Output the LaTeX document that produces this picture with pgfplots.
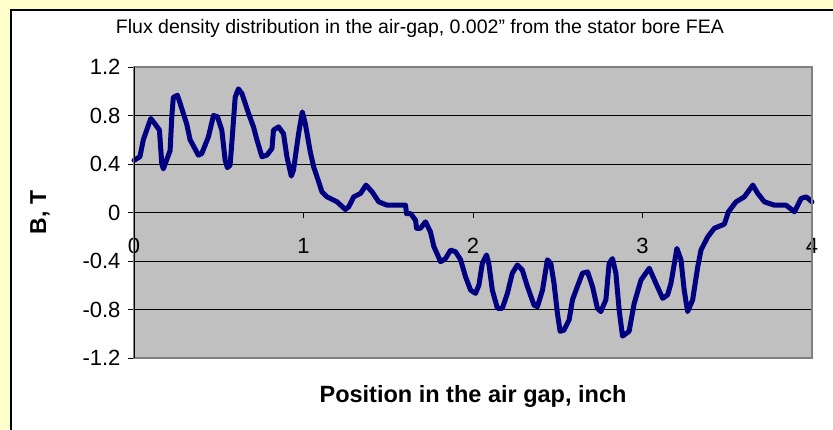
\documentclass[border=0pt]{standalone}
\usepackage{pgfplots}
\pgfplotsset{compat=1.18}
\usepackage{fontspec}
\setmainfont{Liberation Sans}
\definecolor{bgyellow}{HTML}{FFFFCC}
\definecolor{plotgray}{HTML}{C0C0C0}
\definecolor{framegray}{HTML}{808080}
\definecolor{navyline}{HTML}{000080}
\begin{document}
\begin{tikzpicture}[x=1pt,y=1pt]
\useasboundingbox (0,0) rectangle (833,430);
\fill[bgyellow] (0,0) rectangle (833,430);
\draw[black,line width=1.5pt,fill=white] (11,-10) rectangle (850,420);
\begin{axis}[
  at={(134pt,72pt)}, anchor=south west,
  scale only axis, width=678pt, height=291pt,
  xmin=0, xmax=4, ymin=-1.2, ymax=1.2,
  axis x line=middle, axis y line=left,
  hide obscured x ticks=false,
  axis line style={black,line width=0.9pt,-},
  axis background/.style={fill=plotgray},
  xtick={1,2,3,4},
  xticklabels={1,2,3,4},
  extra x ticks={0},
  extra x tick labels={0},
  ytick={-1.2,-0.8,-0.4,0,0.4,0.8,1.2},
  yticklabels={-1.2,-0.8,-0.4,0,0.4,0.8,1.2},
  tick align=outside, major tick length=6pt,
  tick style={black,line width=0.9pt},
  ymajorgrids, grid style={black,line width=0.9pt},
  extra x tick style={grid=none},
  ticklabel style={font=\fontsize{22}{26}\selectfont},
  xticklabel style={anchor=north, yshift=-16pt},
  yticklabel style={anchor=east, xshift=-4pt},
  title={Flux density distribution in the air-gap, 0.002\symbol{34} from the stator bore FEA},
  title style={at={(rel axis cs:0.4218,1.0952)}, anchor=base, font=\fontsize{19.5}{22}\selectfont},
  xlabel={Position in the air gap, inch},
  xlabel style={at={(rel axis cs:0.5,-0.1546)}, anchor=base, font=\bfseries\fontsize{23.5}{27}\selectfont},
  ylabel={B, T},
  ylabel style={at={(rel axis cs:-0.1386,0.5)}, anchor=center, font=\bfseries\fontsize{23}{27}\selectfont},
  clip=false,
]
\addplot[navyline, line width=5pt, line join=round, line cap=round] coordinates {
(0.000,0.43) (0.035,0.46) (0.055,0.60) (0.075,0.68) (0.099,0.775) (0.124,0.73) (0.150,0.68)
(0.164,0.40) (0.173,0.36) (0.213,0.51) (0.223,0.79) (0.232,0.95) (0.256,0.967) (0.272,0.90)
(0.311,0.73) (0.331,0.60) (0.380,0.473) (0.400,0.487) (0.439,0.624) (0.469,0.80) (0.492,0.79)
(0.518,0.68) (0.538,0.43) (0.551,0.37) (0.567,0.39) (0.577,0.57) (0.597,0.95) (0.616,1.02)
(0.637,0.98) (0.676,0.816) (0.705,0.706) (0.725,0.60) (0.755,0.46) (0.784,0.473) (0.814,0.528)
(0.823,0.68) (0.853,0.706) (0.882,0.65) (0.902,0.46) (0.928,0.30) (0.941,0.35) (0.971,0.65)
(0.993,0.83) (1.011,0.73) (1.040,0.50) (1.060,0.376) (1.080,0.294) (1.109,0.17) (1.139,0.129)
(1.198,0.088) (1.247,0.025) (1.267,0.047) (1.296,0.129) (1.336,0.157) (1.369,0.226) (1.405,0.17)
(1.444,0.088) (1.494,0.06) (1.553,0.06) (1.602,0.06) (1.608,-0.01) (1.631,-0.008) (1.661,-0.063)
(1.667,-0.13) (1.690,-0.13) (1.720,-0.077) (1.749,-0.16) (1.769,-0.28) (1.809,-0.406) (1.838,-0.38)
(1.868,-0.31) (1.897,-0.324) (1.927,-0.39) (1.956,-0.53) (1.986,-0.64) (2.015,-0.667) (2.035,-0.598)
(2.055,-0.42) (2.080,-0.35) (2.093,-0.42) (2.114,-0.64) (2.144,-0.79) (2.173,-0.79) (2.203,-0.667)
(2.232,-0.50) (2.262,-0.433) (2.291,-0.475) (2.321,-0.61) (2.360,-0.763) (2.380,-0.777) (2.410,-0.64)
(2.439,-0.39) (2.459,-0.42) (2.478,-0.584) (2.498,-0.83) (2.514,-0.98) (2.537,-0.97) (2.567,-0.886)
(2.587,-0.72) (2.616,-0.61) (2.646,-0.50) (2.676,-0.49) (2.705,-0.61) (2.734,-0.79) (2.754,-0.818)
(2.784,-0.72) (2.803,-0.42) (2.823,-0.38) (2.843,-0.50) (2.862,-0.80) (2.882,-1.02) (2.921,-0.98)
(2.951,-0.75) (2.991,-0.557) (3.040,-0.46) (3.079,-0.584) (3.119,-0.708) (3.148,-0.68) (3.168,-0.584)
(3.203,-0.296) (3.227,-0.39) (3.246,-0.64) (3.266,-0.818) (3.296,-0.72) (3.326,-0.447) (3.345,-0.31)
(3.385,-0.20) (3.424,-0.13) (3.483,-0.096) (3.507,0.006) (3.552,0.088) (3.601,0.129) (3.651,0.226)
(3.680,0.157) (3.719,0.088) (3.779,0.06) (3.847,0.06) (3.897,0.006) (3.936,0.116) (3.966,0.129)
(4.000,0.088)
};
\draw[framegray,line width=1.2pt] (rel axis cs:0,0) rectangle (rel axis cs:1,1);
\draw[black,line width=0.9pt] (rel axis cs:0,0) -- (rel axis cs:0,1);
\end{axis}
\end{tikzpicture}
\end{document}
